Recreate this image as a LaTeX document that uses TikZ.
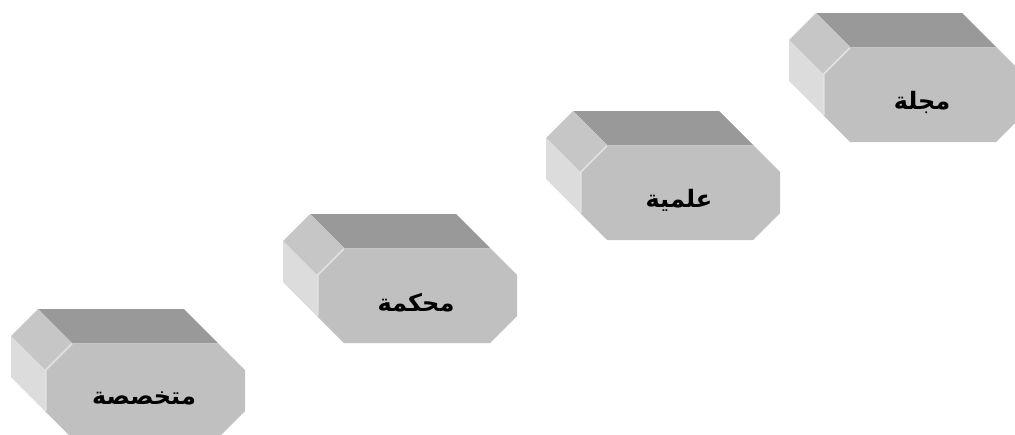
\documentclass[tikz,border=0pt]{standalone}
\usepackage{fontspec}
\TeXXeTstate=1
\newfontfamily\arabicfont[Script=Arabic]{DejaVu Sans}
\definecolor{topgray}{HTML}{999999}
\definecolor{chamgray}{HTML}{C6C6C6}
\definecolor{leftgray}{HTML}{DCDCDC}
\definecolor{frontgray}{HTML}{C0C0C0}
\definecolor{litegray}{HTML}{E2E2E2}
\tikzset{
  topface/.style={fill=topgray},
  chamface/.style={fill=chamgray},
  leftface/.style={fill=leftgray},
  frontface/.style={fill=frontgray},
  hilite/.style={draw=litegray,line width=1.6pt},
  toplite/.style={draw=chamgray,line width=1.2pt},
  boxtext/.style={inner sep=0pt,font=\arabicfont\bfseries\fontsize{24}{28}\selectfont}
}
\newcommand\prismbox[4]{%
  \begin{scope}[shift={(#1,#2)}]
    \fill[topface] (27,0) -- (173,0) -- (139,-34) -- (-7,-34) -- cycle;
    \fill[chamface] (0,27) -- (27,0) -- (-7,-34) -- (-34,-7) -- cycle;
    \fill[leftface] (0,27) -- (0,68) -- (-34,34) -- (-34,-7) -- cycle;
    \fill[frontface] (27,0) -- (173,0) -- (200,27) -- (200,68) -- (173,95) -- (27,95) -- (0,68) -- (0,27) -- cycle;
    \draw[toplite] (28,0.6) -- (172,0.6);
    \draw[hilite] (0.8,68) -- (0.8,27) -- (27,0.8);
    \node[boxtext] (#4) at (99,55) {\beginR #3\endR};
  \end{scope}}
\begin{document}
\begin{tikzpicture}[x=1pt,y=-1pt]
\useasboundingbox (0,0) rectangle (1015,434);
\clip (0,0) rectangle (1015,434);
\fill[white] (0,0) rectangle (1015,434);
\prismbox{45}{343}{متخصصة}{b1}
\prismbox{317}{248}{محكمة}{b2}
\prismbox{580}{145}{علمية}{b3}
\prismbox{823}{47}{مجلة}{b4}
\end{tikzpicture}
\end{document}
